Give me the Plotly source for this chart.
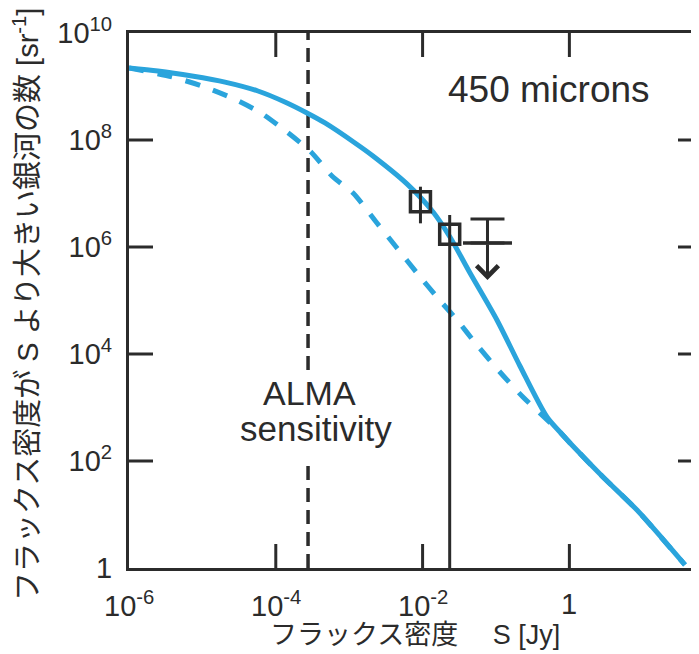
import math
import plotly.graph_objects as go

# ---------------- data ----------------
# Model 1 (solid): cumulative number counts N(>S) [sr^-1] vs flux density S [Jy]
S_solid = [1.0e-6, 2.48e-6, 7.21e-6, 2.03e-5, 5.71e-5, 1.33e-4, 2.66e-4, 4.68e-4,
           1.20e-3, 2.11e-3, 6.12e-3, 1.39e-2, 2.36e-2, 4.43e-2, 0.103, 0.212,
           0.495, 0.745, 1.02, 2.87, 8.34, 37.6]
N_solid = [2.22e9, 1.95e9, 1.57e9, 1.21e9, 8.24e8, 5.13e8, 3.20e8, 2.08e8,
           8.79e7, 5.02e7, 1.51e7, 4.51e6, 1.54e6, 3.27e5, 4.33e4, 5.97e3,
           664, 348, 217, 50.2, 12.1, 1.14]

# Model 2 (dashed)
S_dashed = [1.0e-6, 3.85e-6, 9.89e-6, 2.53e-5, 6.28e-5, 1.42e-4, 3.02e-4, 5.83e-4,
            1.13e-3, 2.39e-3, 4.48e-3, 8.39e-3, 1.57e-2, 2.94e-2, 5.51e-2, 0.113,
            0.233, 0.466, 0.745, 1.02, 2.87, 8.34, 37.6]
N_dashed = [2.22e9, 1.51e9, 1.02e9, 6.10e8, 3.20e8, 1.41e8, 5.97e7, 2.12e7,
            1.02e7, 2.81e6, 9.57e5, 3.27e5, 1.16e5, 4.33e4, 1.47e4, 4.61e3,
            1.57e3, 637, 348, 217, 50.2, 12.1, 1.14]

# Measurements (open squares with error bars)
S_meas = [0.00935, 0.0234]
N_meas = [7.03e6, 1.73e6]
N_meas_hi = [1.34e7, 3.96e6]
N_meas_lo = [2.77e6, 0.1]

# Upper limit
S_ul = [0.0766]
N_ul = [1.19e6]
N_ul_cap = [3.33e6]
N_ul_tip = [2.42e5]

# ALMA sensitivity limit [Jy]
S_alma = 2.75e-4

# Tick labels
x_tickvals = [1e-6, 1e-4, 1e-2, 1]
x_ticktext = ["10<sup>-6</sup>", "10<sup>-4</sup>", "10<sup>-2</sup>", "1"]
y_tickvals = [1, 1e2, 1e4, 1e6, 1e8, 1e10]
y_ticktext = ["1", "10<sup>2</sup>", "10<sup>4</sup>", "10<sup>6</sup>", "10<sup>8</sup>", "10<sup>10</sup>"]

x_title = "フラックス密度\u3000 S [Jy]"
y_title = "フラックス密度が S より大きい銀河の数 [sr<sup>-1</sup>]"
label_band = "450 microns"
label_alma = ["ALMA", "sensitivity"]

# ---------------- style / axes ----------------
BLUE = "#2aa4dc"
AX = "#2b2b2b"
FONT = "Liberation Sans, Arial, Noto Sans CJK JP, sans-serif"
NB = "\u00a0"
X_RANGE = [-6, 1.766]   # log10 range of the x axis
Y_RANGE = [0, 10]       # log10 range of the y axis
PLOT_W, PLOT_H = 570, 535
TICK_PX = 24
TICK_R_PX = 21
# tick length expressed in log10 units along each axis
dx_tick = TICK_PX * (X_RANGE[1] - X_RANGE[0]) / PLOT_W
dy_tick = TICK_PX * (Y_RANGE[1] - Y_RANGE[0]) / PLOT_H

fig = go.Figure()

fig.add_trace(go.Scatter(x=S_dashed, y=N_dashed, mode="lines",
                         line=dict(color=BLUE, width=5, dash="15px,14px", shape="spline", smoothing=0.7),
                         hoverinfo="skip"))
fig.add_trace(go.Scatter(x=S_solid, y=N_solid, mode="lines",
                         line=dict(color=BLUE, width=5, shape="spline", smoothing=0.8),
                         hoverinfo="skip"))

# measured points
fig.add_trace(go.Scatter(
    x=S_meas, y=N_meas, mode="markers",
    marker=dict(symbol="square-open", size=20, color=AX, line=dict(width=3.5, color=AX)),
    error_y=dict(type="data", symmetric=False,
                 array=[h - v for h, v in zip(N_meas_hi, N_meas)],
                 arrayminus=[v - l for v, l in zip(N_meas, N_meas_lo)],
                 color=AX, thickness=3, width=0),
))

# upper limit: bar with upper cap
fig.add_trace(go.Scatter(
    x=S_ul, y=N_ul, mode="markers",
    marker=dict(symbol="line-ew-open", size=35, color=AX, line=dict(width=3.5, color=AX)),
    error_y=dict(type="data", symmetric=False,
                 array=[c - v for c, v in zip(N_ul_cap, N_ul)],
                 arrayminus=[0 for _ in N_ul],
                 color=AX, thickness=3, width=17),
))

# inward tick marks on the bottom, top and left frame (one line trace)
tx, ty = [], []
ylo, yhi = 10 ** Y_RANGE[0], 10 ** Y_RANGE[1]
xlo = 10 ** X_RANGE[0]
for v in x_tickvals[1:]:
    tx += [v, v, None, v, v, None]
    ty += [ylo, 10 ** (Y_RANGE[0] + dy_tick), None, 10 ** (Y_RANGE[1] - dy_tick), yhi, None]
for v in y_tickvals[1:-1]:
    tx += [xlo, 10 ** (X_RANGE[0] + dx_tick), None]
    ty += [v, v, None]
fig.add_trace(go.Scatter(x=tx, y=ty, mode="lines", line=dict(color=AX, width=3),
                         hoverinfo="skip", connectgaps=False))

annotations = []
# downward arrow for the upper limit
for s, v, t in zip(S_ul, N_ul, N_ul_tip):
    annotations.append(dict(x=math.log10(s), y=math.log10(t), xref="x", yref="y",
                            ax=math.log10(s), ay=math.log10(v), axref="x", ayref="y",
                            text="", showarrow=True, arrowhead=4, arrowsize=1.4,
                            arrowwidth=3, arrowcolor=AX, standoff=0, startstandoff=0))

# x tick labels (placed below the axis)
for v, t in zip(x_tickvals, x_ticktext):
    annotations.append(dict(x=math.log10(v), y=-0.068, xref="x", yref="paper", text=t,
                            xanchor="center", yanchor="middle", showarrow=False,
                            font=dict(family=FONT, size=29, color=AX)))

# right-hand inward ticks (the right frame itself lies just outside the picture)
for v in y_tickvals[1:-1]:
    fig.add_shape(type="line", xref="paper", yref="y", x0=1 - TICK_R_PX / PLOT_W, x1=1.0,
                  y0=v, y1=v, line=dict(color=AX, width=3))

# ALMA sensitivity vertical dashed line, interrupted behind the label
for y0, y1 in [(0.0, 0.202), (0.370, 1.0)]:
    fig.add_shape(type="line", xref="x", yref="paper", x0=S_alma, x1=S_alma, y0=y0, y1=y1,
                  line=dict(color=AX, width=3.5, dash="14px,8px"), layer="below")

annotations += [
    dict(text=label_band, xref="paper", yref="paper", x=0.737, y=0.895,
         xanchor="center", yanchor="middle", showarrow=False,
         font=dict(family=FONT, size=37, color=AX)),
    dict(text=label_alma[0], xref="paper", yref="paper", x=0.3175, y=0.328,
         xanchor="center", yanchor="middle", showarrow=False,
         font=dict(family=FONT, size=34, color=AX)),
    dict(text=label_alma[1], xref="paper", yref="paper", x=0.328, y=0.260,
         xanchor="center", yanchor="middle", showarrow=False,
         font=dict(family=FONT, size=35, color=AX)),
    dict(text=x_title, xref="paper", yref="paper", x=0.5018, y=-0.125,
         xanchor="center", yanchor="middle", showarrow=False,
         font=dict(family=FONT, size=27, color=AX)),
    dict(text=y_title, xref="paper", yref="paper", x=-0.1807, y=0.4916, textangle=-90,
         xanchor="center", yanchor="middle", showarrow=False,
         font=dict(family=FONT, size=29, color=AX)),
]

axis_common = dict(ticks="", showline=True, linewidth=3, linecolor=AX, layer="above traces",
                   showgrid=False, zeroline=False, automargin=False)

# the page body adds an 8px offset, so the figure is 8px smaller than the window
fig.update_layout(
    template="none",
    width=691, height=646,
    margin=dict(l=121, r=0, t=25, b=86, autoexpand=False),
    paper_bgcolor="white", plot_bgcolor="white",
    showlegend=False,
    annotations=annotations,
    xaxis=dict(type="log", range=X_RANGE, tickmode="array", tickvals=x_tickvals,
               ticktext=x_ticktext, showticklabels=False, mirror=True, **axis_common),
    yaxis=dict(type="log", range=Y_RANGE, tickmode="array", tickvals=y_tickvals,
               ticktext=[t + NB for t in y_ticktext], mirror=False,
               tickfont=dict(family=FONT, size=29, color=AX), **axis_common),
)

fig.write_html("out.html")
